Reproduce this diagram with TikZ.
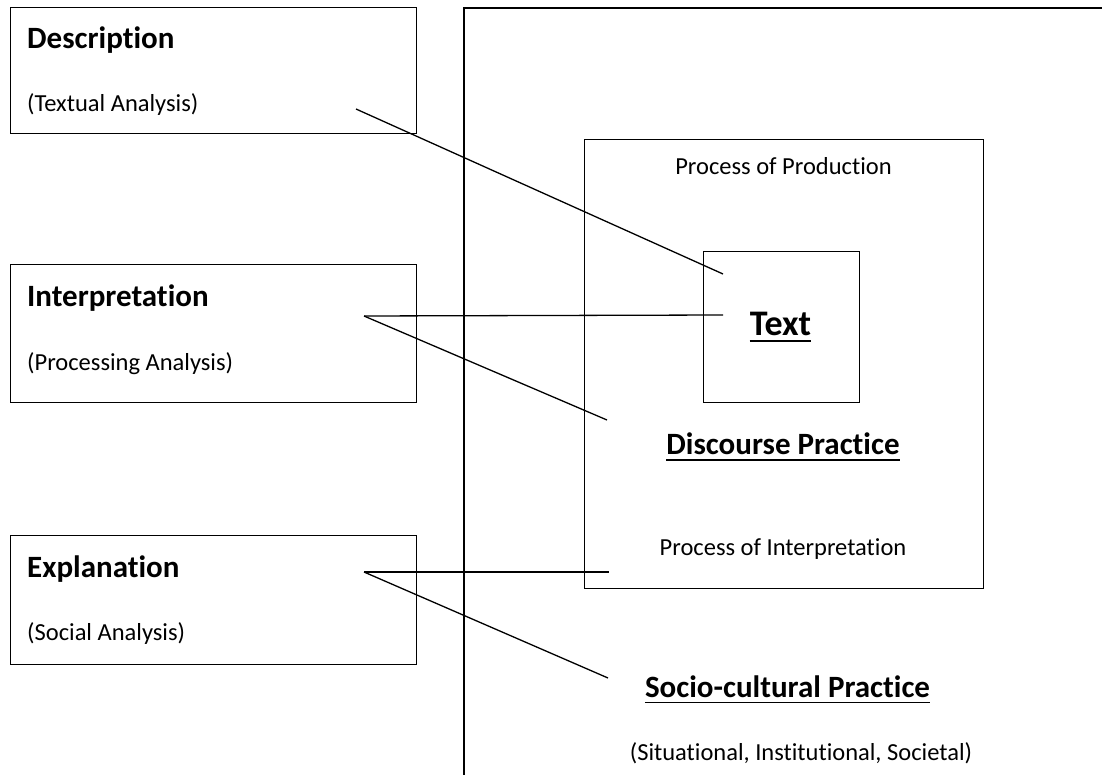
\documentclass[tikz,border=0pt]{standalone}
\usepackage{fontspec}
\setmainfont{Carlito}[Ligatures=CommonOff]
\begin{document}
\begin{tikzpicture}[x=1pt,y=-1pt,
  box/.style={draw, line width=1.4pt, inner sep=0pt, anchor=north west},
  heading/.style={font=\fontsize{31}{37}\selectfont\bfseries, inner sep=0pt, anchor=base west},
  sub/.style={font=\fontsize{24.5}{29}\selectfont, inner sep=0pt, anchor=base west},
  ctext/.style={font=\fontsize{24.5}{29}\selectfont, inner sep=0pt, anchor=base},
  cbold/.style={font=\fontsize{31}{37}\selectfont\bfseries, inner sep=0pt, anchor=base},
  uline/.style={line width=1.8pt},
  conn/.style={line width=1.3pt}]
\useasboundingbox (0,0) rectangle (1102,775);
% outer frame (open on right and bottom)
\coordinate (otr) at (1102,8);
\coordinate (otl) at (464,8);
\coordinate (obl) at (464,775);
\draw[line width=1.4pt] (otr) -- (otl) -- (obl);
% left boxes
\node[box, minimum width=406pt, minimum height=126pt] (descbox) at (10,7) {};
\node[box, minimum width=406pt, minimum height=138pt] (interbox) at (10,264) {};
\node[box, minimum width=406pt, minimum height=129pt] (explbox) at (10,535) {};
\node[heading] (desc) at (27,49) {Description};
\node[sub] (descsub) at (27,112) {(Textual Analysis)};
\node[heading] (inter) at (27,307) {Interpretation};
\node[sub] (intersub) at (27,370) {(Processing Analysis)};
\node[heading] (expl) at (27,577) {Explanation};
\node[sub] (explsub) at (27,640) {(Social Analysis)};
% discourse practice box and text box
\node[box, minimum width=399pt, minimum height=449pt] (dpbox) at (584,139) {};
\node[box, minimum width=156pt, minimum height=151pt] (textbox) at (703,251) {};
\node[ctext] (prod) at (783.5,175) {Process of Production};
\node[font=\fontsize{36}{43}\selectfont\bfseries, inner sep=0pt, anchor=base] (txt) at (780.5,335) {Text};
\node[cbold] (dp) at (783,454) {Discourse Practice};
\node[ctext] (interp) at (783,555) {Process of Interpretation};
\node[cbold] (scp) at (787.5,697) {Socio-cultural Practice};
\node[ctext] (sit) at (801,760) {(Situational, Institutional, Societal)};
% underlines
\draw[uline] ([yshift=-6pt]txt.base west) -- ([yshift=-6pt]txt.base east);
\draw[uline] ([yshift=-6pt]dp.base west) -- ([yshift=-6pt]dp.base east);
\draw[uline] ([yshift=-5.5pt]scp.base west) -- ([yshift=-5.5pt]scp.base east);
% connectors
\coordinate (d1) at (356,109); \coordinate (d2) at (723,274);
\coordinate (i1) at (364,316); \coordinate (i2) at (723,315); \coordinate (i3) at (607,420);
\coordinate (e1) at (364,572); \coordinate (e2) at (609,572); \coordinate (e3) at (608,678);
\draw[conn] (d1) -- (d2);
\draw[conn] (i1) -- (i2);
\draw[conn] (i1) -- (i3);
\draw[conn] (e1) -- (e2);
\draw[conn] (e1) -- (e3);
\end{tikzpicture}
\end{document}
